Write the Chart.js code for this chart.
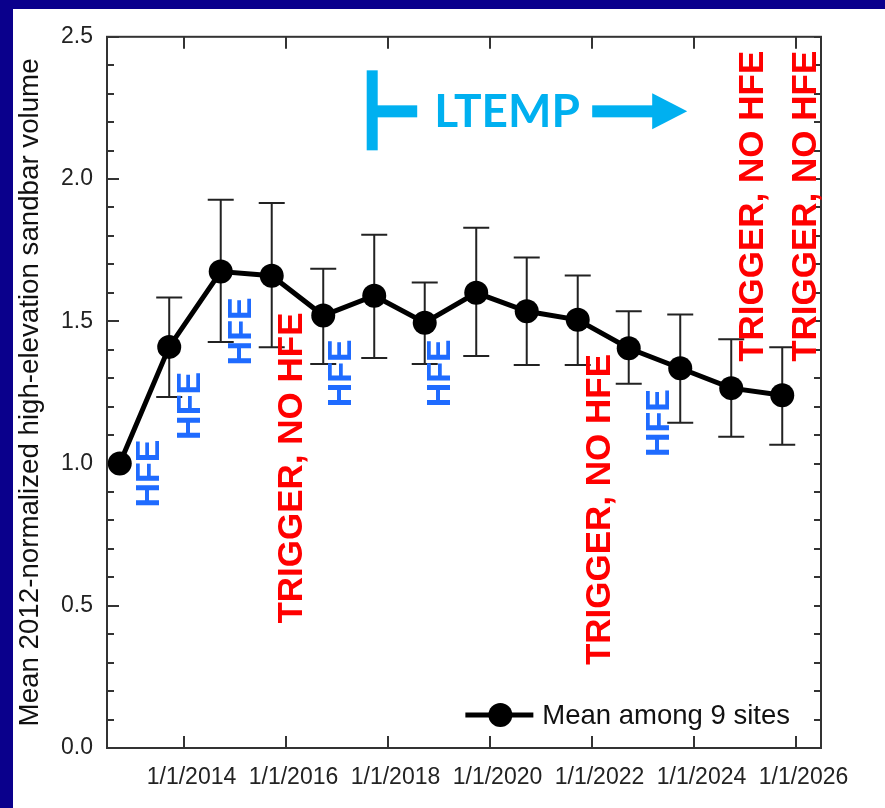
<!DOCTYPE html>
<html><head><meta charset="utf-8">
<script src="https://cdn.jsdelivr.net/npm/chart.js@4.4.1/dist/chart.umd.min.js"></script>
<style>
html,body{margin:0;padding:0;background:#0a008c;width:885px;height:808px;overflow:hidden}
#wrap{position:absolute;left:13px;top:9px;width:872px;height:799px;background:#fff}
canvas{display:block}
</style></head><body>
<div id="wrap"><canvas id="c" width="872" height="799"></canvas></div>
<script>
// ---- data (decimal years, normalized volume) ----
const surveyDates = [2012.75, 2013.72, 2014.73, 2015.73, 2016.74, 2017.74, 2018.73, 2019.74, 2020.73, 2021.73, 2022.73, 2023.74, 2024.74, 2025.74];
const meanVolume  = [1.00, 1.41, 1.675, 1.66, 1.52, 1.59, 1.495, 1.60, 1.535, 1.505, 1.405, 1.335, 1.265, 1.24];
const errorHigh   = [null, 1.584, 1.927, 1.916, 1.685, 1.804, 1.636, 1.829, 1.724, 1.661, 1.535, 1.524, 1.437, 1.409];
const errorLow    = [null, 1.234, 1.427, 1.409, 1.350, 1.371, 1.350, 1.378, 1.346, 1.346, 1.280, 1.143, 1.094, 1.066];
const seriesLabel = 'Mean among 9 sites';

// ---- axes ----
const xTickYears  = [2014, 2016, 2018, 2020, 2022, 2024, 2026];
const xTickLabels = ['1/1/2014', '1/1/2016', '1/1/2018', '1/1/2020', '1/1/2022', '1/1/2024', '1/1/2026'];
const yMajorTicks = [0, 0.5, 1.0, 1.5, 2.0, 2.5];
const yMinorTicks = [0.1, 0.2, 0.3, 0.4, 0.6, 0.7, 0.8, 0.9, 1.1, 1.2, 1.3, 1.4, 1.6, 1.7, 1.8, 1.9, 2.1, 2.2, 2.3, 2.4];
const yTitle = 'Mean 2012-normalized high-elevation sandbar volume';

// ---- annotations (anchor = centre x, top end of vertical text) ----
const annotationText  = ['HFE', 'HFE', 'HFE', 'TRIGGER, NO HFE', 'HFE', 'HFE', 'TRIGGER, NO HFE', 'HFE', 'TRIGGER, NO HFE', 'TRIGGER, NO HFE'];
const annotationX     = [2013.34, 2014.13, 2015.13, 2016.13, 2017.11, 2019.05, 2022.17, 2023.34, 2025.17, 2026.21];
const annotationTop   = [1.084, 1.322, 1.584, 1.531, 1.437, 1.437, 1.385, 1.262, 2.451, 2.451];
const annotationKind  = ['hfe', 'hfe', 'hfe', 'trigger', 'hfe', 'hfe', 'trigger', 'hfe', 'trigger', 'trigger'];
const ltempLabel = 'LTEMP';
const ltempStartYear = 2017.70;
const ltempLevel = 2.238;

const COLORS = { hfe: '#1f6bff', trigger: '#ff0000', ltemp: '#00b0f0', axis: '#333333', text: '#222222' };
const FONT = '"Liberation Sans", Arial, Helvetica, sans-serif';

const decorPlugin = {
  id: 'decor',
  beforeDatasetsDraw(chart) {
    const { ctx, chartArea: a, scales: { x, y } } = chart;
    ctx.save();
    ctx.strokeStyle = COLORS.axis;
    ctx.lineWidth = 2;
    ctx.strokeRect(a.left, a.top, a.right - a.left, a.bottom - a.top);
    ctx.beginPath();
    yMajorTicks.forEach(v => {
      const py = Math.round(y.getPixelForValue(v));
      ctx.moveTo(a.left, py); ctx.lineTo(a.left + 12, py);
      ctx.moveTo(a.right, py); ctx.lineTo(a.right - 7, py);
    });
    yMinorTicks.forEach(v => {
      const py = Math.round(y.getPixelForValue(v));
      ctx.moveTo(a.left, py); ctx.lineTo(a.left + 7, py);
      ctx.moveTo(a.right, py); ctx.lineTo(a.right - 7, py);
    });
    xTickYears.forEach(v => {
      const px = Math.round(x.getPixelForValue(v));
      ctx.moveTo(px, a.bottom); ctx.lineTo(px, a.bottom - 12);
      ctx.moveTo(px, a.top); ctx.lineTo(px, a.top + 12);
    });
    ctx.stroke();
    // error bars
    ctx.strokeStyle = '#222';
    ctx.lineWidth = 2;
    ctx.beginPath();
    surveyDates.forEach((d, i) => {
      if (errorHigh[i] == null) return;
      const px = x.getPixelForValue(d);
      const hi = y.getPixelForValue(errorHigh[i]);
      const lo = y.getPixelForValue(errorLow[i]);
      ctx.moveTo(px, hi); ctx.lineTo(px, lo);
      ctx.moveTo(px - 13, hi); ctx.lineTo(px + 13, hi);
      ctx.moveTo(px - 13, lo); ctx.lineTo(px + 13, lo);
    });
    ctx.stroke();
    ctx.restore();
  },
  afterDatasetsDraw(chart) {
    const { ctx, scales: { x, y } } = chart;
    ctx.save();
    annotationText.forEach((t, i) => {
      const px = x.getPixelForValue(annotationX[i]);
      const py = y.getPixelForValue(annotationTop[i]);
      ctx.save();
      ctx.translate(px, py);
      ctx.rotate(-Math.PI / 2);
      ctx.font = 'bold ' + (annotationKind[i] === 'hfe' ? 34 : 35) + 'px ' + FONT;
      ctx.fillStyle = COLORS[annotationKind[i]];
      ctx.textAlign = 'right';
      ctx.textBaseline = 'middle';
      ctx.fillText(t, 0, 0);
      ctx.restore();
    });
    // LTEMP bracket + arrow
    const bx = x.getPixelForValue(ltempStartYear);
    const by = y.getPixelForValue(ltempLevel);
    ctx.fillStyle = COLORS.ltemp;
    ctx.fillRect(bx - 5.5, by - 41, 11, 80);
    ctx.fillRect(bx, by - 6, 45, 12);
    ctx.font = 'bold 46px Lato, "Open Sans", sans-serif';
    ctx.textAlign = 'left';
    ctx.textBaseline = 'alphabetic';
    ctx.fillText(ltempLabel, bx + 62, by + 16);
    ctx.fillRect(bx + 220, by - 6, 62, 12);
    ctx.beginPath();
    ctx.moveTo(bx + 280, by - 18);
    ctx.lineTo(bx + 315, by);
    ctx.lineTo(bx + 280, by + 18);
    ctx.closePath();
    ctx.fill();
    ctx.restore();
  },
  afterDraw(chart) {
    const { ctx, chartArea: a } = chart;
    ctx.save();
    ctx.font = '27.5px ' + FONT;
    const tw = ctx.measureText(seriesLabel).width;
    const textRight = a.right - 31;
    const textLeft = textRight - tw;
    const cy = a.bottom - 33;
    ctx.strokeStyle = '#000';
    ctx.lineWidth = 5;
    ctx.beginPath();
    ctx.moveTo(textLeft - 77, cy); ctx.lineTo(textLeft - 9, cy);
    ctx.stroke();
    ctx.fillStyle = '#000';
    ctx.beginPath();
    ctx.arc(textLeft - 42, cy, 12, 0, Math.PI * 2);
    ctx.fill();
    ctx.fillStyle = '#111';
    ctx.textAlign = 'left';
    ctx.textBaseline = 'middle';
    ctx.fillText(seriesLabel, textLeft, cy + 1);
    ctx.restore();
  }
};

new Chart(document.getElementById('c'), {
  type: 'line',
  data: {
    datasets: [{
      label: seriesLabel,
      data: surveyDates.map((d, i) => ({ x: d, y: meanVolume[i] })),
      borderColor: '#000',
      backgroundColor: '#000',
      borderWidth: 5,
      pointRadius: 12,
      pointBackgroundColor: '#000',
      pointBorderWidth: 0,
      tension: 0,
      clip: false
    }]
  },
  options: {
    responsive: false,
    animation: false,
    devicePixelRatio: 1,
    layout: { padding: { left: 0, top: 24, right: 64, bottom: 0 } },
    plugins: { legend: { display: false }, tooltip: { enabled: false } },
    scales: {
      x: {
        type: 'linear',
        min: 2012.5,
        max: 2026.5,
        grid: { display: false, drawTicks: false },
        border: { display: false },
        afterBuildTicks: s => { s.ticks = xTickYears.map(v => ({ value: v })); },
        afterFit: s => { s.height = 60; },
        ticks: {
          autoSkip: false,
          maxRotation: 0,
          padding: 16,
          labelOffset: 8,
          color: COLORS.text,
          font: { family: FONT, size: 23 },
          callback: (v, i) => xTickLabels[i]
        }
      },
      y: {
        min: 0,
        max: 2.5,
        grid: { display: false, drawTicks: false },
        border: { display: false },
        afterBuildTicks: s => { s.ticks = yMajorTicks.map(v => ({ value: v })); },
        afterFit: s => { s.width = 94; },
        ticks: {
          padding: 14,
          color: COLORS.text,
          font: { family: FONT, size: 23 },
          callback: v => v.toFixed(1)
        },
        title: {
          display: true,
          text: yTitle,
          color: '#111',
          font: { family: FONT, size: 27.7 },
          padding: { top: 1, bottom: 0 }
        }
      }
    }
  },
  plugins: [decorPlugin]
});
</script>
</body></html>
